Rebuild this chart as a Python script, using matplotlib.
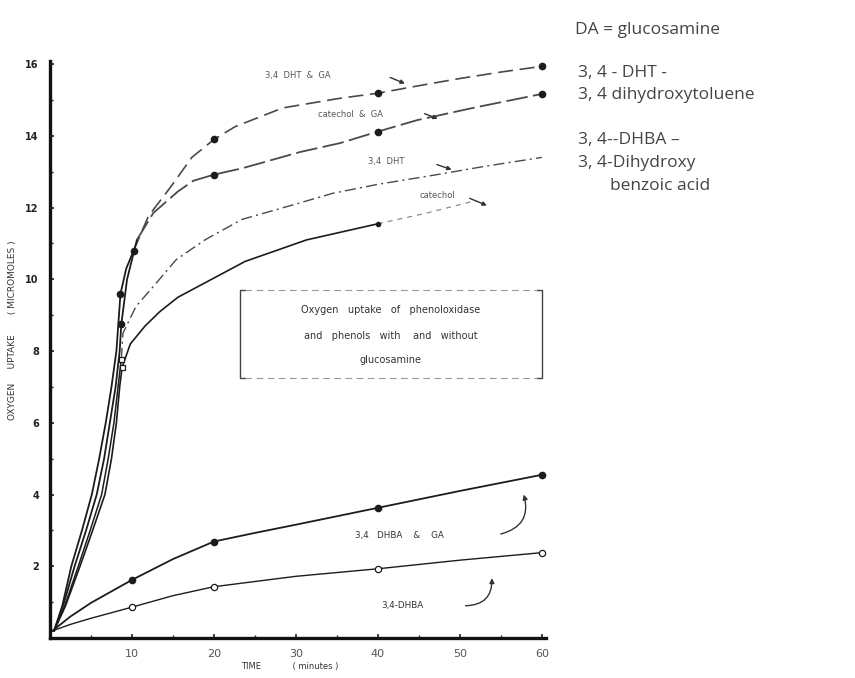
import matplotlib
matplotlib.use("Agg")
import matplotlib.pyplot as plt

# ---------------- data ----------------
# path points of each hand-drawn curve (time in minutes, uptake in micromoles)
dht_ga_t = [0.5, 1.5, 2.6, 3.9, 5.1, 6.0, 6.8, 7.5, 8.1, 8.6, 9.3, 10.2, 12.0, 14.8, 17.3, 20, 22.6, 28.4, 35.4, 40, 45, 50, 55, 60]
dht_ga_y = [0.2, 0.9, 2.0, 3.0, 4.0, 5.0, 6.0, 7.0, 8.0, 9.6, 10.3, 10.8, 11.76, 12.6, 13.4, 13.9, 14.26, 14.78, 15.05, 15.19, 15.4, 15.6, 15.78, 15.94]
dht_ga_mt = [8.6, 10.2, 20, 40, 60]
dht_ga_my = [9.6, 10.8, 13.9, 15.19, 15.94]

cat_ga_t = [0.5, 1.6, 3.0, 4.4, 5.7, 6.6, 7.3, 8.0, 8.5, 8.7, 9.4, 10.6, 12.6, 15.6, 17.5, 20, 23.5, 30.5, 35.4, 40, 44.8, 51.6, 60]
cat_ga_y = [0.2, 0.9, 2.0, 3.0, 4.0, 5.0, 6.0, 7.0, 8.0, 8.75, 10.0, 11.1, 11.85, 12.45, 12.75, 12.92, 13.1, 13.55, 13.8, 14.12, 14.44, 14.78, 15.17]
cat_ga_mt = [8.7, 20, 40, 60]
cat_ga_my = [8.75, 12.92, 14.12, 15.17]

dht_t = [0.5, 1.8, 3.45, 4.9, 6.3, 7.1, 7.8, 8.3, 8.7, 8.9, 10.5, 12.6, 15.4, 18.9, 23.4, 30, 34.5, 40, 46.7, 53, 60]
dht_y = [0.2, 0.9, 2.0, 3.0, 4.0, 5.0, 6.0, 7.0, 7.78, 8.5, 9.25, 9.8, 10.55, 11.1, 11.67, 12.1, 12.4, 12.65, 12.9, 13.15, 13.4]
dht_mt = [8.7]
dht_my = [7.78]

cat_t = [0.5, 1.9, 3.66, 5.2, 6.7, 7.5, 8.1, 8.5, 8.8, 9.8, 11.6, 13.4, 15.6, 19.7, 23.8, 31.3, 40, 46, 52]
cat_y = [0.2, 0.9, 2.0, 3.0, 4.0, 5.0, 6.0, 7.0, 7.55, 8.2, 8.7, 9.1, 9.5, 10.0, 10.5, 11.1, 11.55, 11.85, 12.2]
cat_mt = [8.8]
cat_my = [7.55]
cat_dot_t = [40]
cat_dot_y = [11.55]

dhba_ga_t = [0.3, 2.5, 5, 10, 15, 20, 25, 30, 40, 50, 60]
dhba_ga_y = [0.2, 0.6, 0.98, 1.62, 2.2, 2.69, 2.93, 3.16, 3.63, 4.1, 4.55]
dhba_ga_mt = [10, 20, 40, 60]
dhba_ga_my = [1.62, 2.69, 3.63, 4.55]

dhba_t = [0.3, 2.5, 5, 10, 15, 20, 30, 40, 50, 60]
dhba_y = [0.2, 0.38, 0.55, 0.86, 1.18, 1.43, 1.72, 1.93, 2.17, 2.38]
dhba_mt = [10, 20, 40, 60]
dhba_my = [0.86, 1.43, 1.93, 2.38]

x_ticks = [10, 20, 30, 40, 50, 60]
y_ticks = [2, 4, 6, 8, 10, 12, 14, 16]

# ---------------- figure ----------------
W, H = 855, 678
fig = plt.figure(figsize=(W / 100, H / 100), dpi=100)
fig.patch.set_facecolor("white")
ax_l, ax_r, ax_b, ax_t = 50, 550, 40, 621   # pixel box of axes (from left/bottom)
ax = fig.add_axes([ax_l / W, ax_b / H, (ax_r - ax_l) / W, (ax_t - ax_b) / H])
ax.set_xlim(0, 61)
ax.set_ylim(0, 16.2)

ink = "#1c1c1c"
faint = "#4a4a4a"

def split(ts, ys, cut):
    a = [(t, y) for t, y in zip(ts, ys) if t <= cut]
    b = [(t, y) for t, y in zip(ts, ys) if t >= cut]
    return list(zip(*a)), list(zip(*b))

# upper family
(s_t, s_y), (d_t, d_y) = split(dht_ga_t, dht_ga_y, 10.2)
ax.plot(s_t, s_y, color=ink, lw=1.3)
ax.plot(d_t, d_y, color=faint, lw=1.2, dashes=(9, 4))

(s_t, s_y), (d_t, d_y) = split(cat_ga_t, cat_ga_y, 10.6)
ax.plot(s_t, s_y, color=ink, lw=1.3)
ax.plot(d_t, d_y, color=faint, lw=1.3, dashes=(12, 3))

(s_t, s_y), (d_t, d_y) = split(dht_t, dht_y, 8.7)
ax.plot(s_t, s_y, color=ink, lw=1.1)
ax.plot(d_t, d_y, color=faint, lw=1.0, dashes=(8, 3, 1.5, 3))

(s_t, s_y), (d_t, d_y) = split(cat_t, cat_y, 40)
ax.plot(s_t, s_y, color=ink, lw=1.2)
ax.plot(d_t, d_y, color="#8a8a8a", lw=0.9, dashes=(4, 4))

ms = 4.5
ax.plot(dht_ga_mt, dht_ga_my, "o", color=ink, ms=ms, ls="none")
ax.plot(cat_ga_mt, cat_ga_my, "o", color=ink, ms=ms, ls="none")
ax.plot(dht_mt, dht_my, "s", mfc="white", mec=ink, ms=3.6, mew=0.9, ls="none")
ax.plot(cat_mt, cat_my, "s", mfc="white", mec=ink, ms=3.6, mew=0.9, ls="none")
ax.plot(cat_dot_t, cat_dot_y, "o", color=ink, ms=3, ls="none")

# lower family
ax.plot(dhba_ga_t, dhba_ga_y, color=ink, lw=1.3)
ax.plot(dhba_ga_mt, dhba_ga_my, "o", color=ink, ms=ms, ls="none")
ax.plot(dhba_t, dhba_y, color=ink, lw=1.0)
ax.plot(dhba_mt, dhba_my, "o", mfc="white", mec=ink, ms=ms, mew=0.9, ls="none")

# ---------------- axes styling ----------------
for s in ("top", "right"):
    ax.spines[s].set_visible(False)
for s in ("left", "bottom"):
    ax.spines[s].set_linewidth(2.4)
    ax.spines[s].set_color("#111111")
ax.spines["left"].set_bounds(0, 16.1)
ax.spines["bottom"].set_bounds(0, 60.5)

ax.set_xticks(x_ticks)
ax.set_xticklabels([str(v) for v in x_ticks], fontsize=8, color="#555555")
ax.set_yticks(y_ticks)
ax.set_yticklabels([str(v) for v in y_ticks], fontsize=7, color="#222222", fontweight="bold")
ax.set_xticks([5, 15, 25, 35, 45, 55], minor=True)
ax.set_yticks([1, 3, 5, 7, 9, 11, 13, 15], minor=True)
ax.tick_params(axis="both", which="major", length=3, width=1.2, direction="in", pad=8, colors="#222222")
ax.tick_params(axis="both", which="minor", length=2, width=1.0, direction="in", colors="#222222")
ax.tick_params(axis="x", labelcolor="#555555")

ax.set_xlabel("TIME            ( minutes )", fontsize=6, color="#333333")
ax.xaxis.set_label_coords(0.48, -0.042)
ax.set_ylabel("OXYGEN     UPTAKE       ( MICROMOLES )", fontsize=6.5, color="#333333")
ax.yaxis.set_label_coords(-0.065, 0.53)

# ---------------- in-plot annotations ----------------
lab = dict(fontsize=6, color="#555555")
ax.text(26.2, 15.68, "3,4  DHT  &  GA", va="center", **lab)
ax.text(32.7, 14.6, "catechol  &  GA", va="center", **lab)
ax.text(38.8, 13.29, "3,4  DHT", va="center", **lab)
ax.text(45.1, 12.34, "catechol", va="center", **lab)
for (x0, y0, x1, y1) in [(41.5, 15.63, 43.3, 15.46), (45.7, 14.62, 47.3, 14.48),
                         (47.2, 13.2, 49.0, 13.06), (51.2, 12.26, 53.3, 12.06)]:
    ax.annotate("", xy=(x1, y1), xytext=(x0, y0),
                arrowprops=dict(arrowstyle="-|>", color="#333333", lw=1.0,
                                mutation_scale=6, shrinkA=0, shrinkB=0))

ax.text(37.2, 2.87, "3,4   DHBA    &    GA", va="center", fontsize=6.3, color="#333333")
ax.annotate("", xy=(57.8, 4.0), xytext=(55.0, 2.9),
            arrowprops=dict(arrowstyle="-|>", color="#333333", lw=1.0, mutation_scale=7,
                            connectionstyle="arc3,rad=0.5", shrinkA=0, shrinkB=0))
ax.text(40.4, 0.92, "3,4-DHBA", va="center", fontsize=6.3, color="#333333")
ax.annotate("", xy=(53.9, 1.67), xytext=(50.7, 0.9),
            arrowprops=dict(arrowstyle="-|>", color="#333333", lw=1.0, mutation_scale=7,
                            connectionstyle="arc3,rad=0.5", shrinkA=0, shrinkB=0))

# title box (bracketed)
bx0, bx1, by0, by1 = 23.2, 60.0, 7.24, 9.69
ax.plot([bx0 + 0.6, bx0, bx0, bx0 + 0.6], [by1, by1, by0, by0], color="#444444", lw=1.0)
ax.plot([bx1 - 0.6, bx1, bx1, bx1 - 0.6], [by1, by1, by0, by0], color="#444444", lw=1.0)
ax.plot([bx0 + 0.6, bx1 - 0.6], [by1, by1], color="#999999", lw=0.8, dashes=(6, 4))
ax.plot([bx0 + 0.6, bx1 - 0.6], [by0, by0], color="#999999", lw=0.8, dashes=(6, 4))
cx = (bx0 + bx1) / 2
tb = dict(fontsize=7, color="#333333", ha="center", va="center")
ax.text(cx, 9.14, "Oxygen   uptake   of   phenoloxidase", **tb)
ax.text(cx, 8.41, "and   phenols   with    and   without", **tb)
ax.text(cx, 7.74, "glucosamine", **tb)

# ---------------- right-hand key text ----------------
kt = dict(fontsize=12.5, color="#444444", family="Open Sans", va="center", ha="left")
fig.text(575 / W, 1 - 30 / H, "DA = glucosamine", **kt)
fig.text(578 / W, 1 - 73 / H, "3, 4 - DHT -", **kt)
fig.text(578 / W, 1 - 95 / H, "3, 4 dihydroxytoluene", **kt)
fig.text(578 / W, 1 - 140 / H, "3, 4--DHBA \u2013", **kt)
fig.text(578 / W, 1 - 163 / H, "3, 4-Dihydroxy", **kt)
fig.text(610 / W, 1 - 186 / H, "benzoic acid", **kt)

fig.savefig("out.png", dpi=100, facecolor="white")
